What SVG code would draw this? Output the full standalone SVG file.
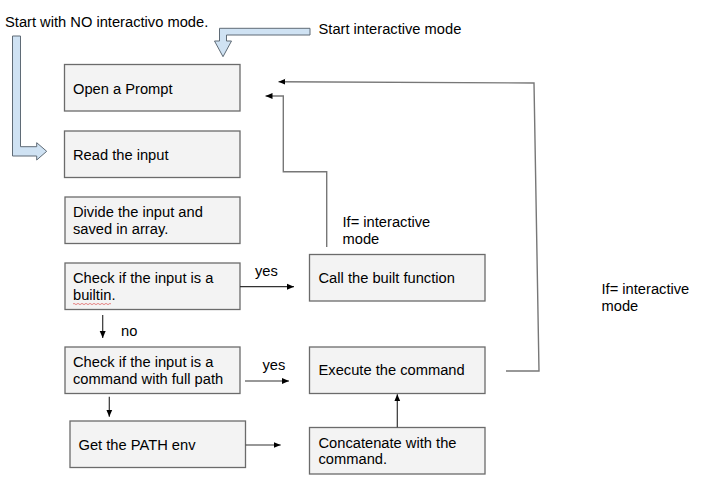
<svg xmlns="http://www.w3.org/2000/svg" width="728" height="501" viewBox="0 0 728 501">
<style>
  .box { fill: #f3f3f3; stroke: #6b6b6b; stroke-width: 1.3; }
  .t { font-family: "Liberation Sans", Arial, sans-serif; font-size: 14.7px; fill: #000; }
  .c { fill: none; stroke: #333; stroke-width: 1.2; }
  .cg { fill: none; stroke: #777; stroke-width: 1.4; }
  .blue { fill: #cfe2f3; stroke: #5f6b76; stroke-width: 1; }
</style>
<defs>
  <marker id="ah" markerUnits="userSpaceOnUse" markerWidth="8" markerHeight="8" viewBox="0 0 8 8" refX="7" refY="4" orient="auto">
    <path d="M0,1 L7,4 L0,7 Z" fill="#000"/>
  </marker>
</defs>
<rect width="728" height="501" fill="#fff"/>

<g id="start-labels">
  <text class="t" x="5" y="26.5">Start with NO interactivo mode.</text>
  <text class="t" x="318.5" y="33.5">Start interactive mode</text>
  <path class="blue" d="M12.5,36 H20.5 V146.7 H36.7 V142.7 L46.7,151.3 L36.7,160 V156 H12.5 Z"/>
  <path class="blue" d="M310,28.3 V35 H226.5 V41 H231.5 L223,56.7 L214.5,41 H219.5 V28.3 Z"/>
</g>

<g id="open-prompt">
  <rect class="box" x="64.5" y="64.5" width="175.5" height="46.5"/>
  <text class="t" x="73" y="93.5">Open a Prompt</text>
</g>
<g id="read-input">
  <rect class="box" x="64.5" y="131" width="175.5" height="46.5"/>
  <text class="t" x="73" y="160">Read the input</text>
</g>
<g id="divide-input">
  <rect class="box" x="65" y="197" width="175" height="46.5"/>
  <text class="t" x="73" y="216.5">Divide the input and</text>
  <text class="t" x="73" y="234">saved in array.</text>
</g>
<g id="check-builtin">
  <rect class="box" x="65" y="263" width="175" height="46.5"/>
  <text class="t" x="73" y="282.5">Check if the input is a</text>
  <text class="t" x="73" y="300">builtin.</text>
  <path d="M73,304 q1,-1.2 2,0 t2,0 t2,0 t2,0 t2,0 t2,0 t2,0 t2,0 t2,0 t2,0 t2,0 t2,0 t2,0 t2,0 t2,0 t2,0 t2,0 t2,0 t2,0" fill="none" stroke="#e06666" stroke-width="0.8"/>
</g>
<g id="call-builtin">
  <rect class="box" x="309.5" y="254.5" width="175.5" height="46.5"/>
  <text class="t" x="318.5" y="282.5">Call the built function</text>
</g>
<g id="check-command">
  <rect class="box" x="65" y="347" width="175" height="46.5"/>
  <text class="t" x="73" y="366.5">Check if the input is a</text>
  <text class="t" x="73" y="384">command with full path</text>
</g>
<g id="execute-command">
  <rect class="box" x="309.5" y="347" width="175.5" height="46.5"/>
  <text class="t" x="318.5" y="375">Execute the command</text>
</g>
<g id="get-path">
  <rect class="box" x="70" y="421" width="175.5" height="46.5"/>
  <text class="t" x="78.5" y="450">Get the PATH env</text>
</g>
<g id="concatenate">
  <rect class="box" x="309.5" y="427.5" width="175.5" height="46.5"/>
  <text class="t" x="318.5" y="448">Concatenate with the</text>
  <text class="t" x="318.5" y="463.5">command.</text>
</g>

<g id="connectors">
  <path class="c" d="M240,286.7 H294" marker-end="url(#ah)"/>
  <path class="c" d="M102.7,315 V338" marker-end="url(#ah)"/>
  <path class="c" d="M245,381 H289" marker-end="url(#ah)"/>
  <path class="c" d="M109.3,396.7 V416.7" marker-end="url(#ah)"/>
  <path class="c" d="M245.7,445 H280.7" marker-end="url(#ah)"/>
  <path class="c" d="M397.3,427.3 V394.3" marker-end="url(#ah)"/>
  <path class="cg" d="M326.7,247 V171.7 H283.3 V96 H265.5" marker-end="url(#ah)"/>
  <path class="cg" d="M506,371 H539 L534,83 L278.5,81.7" marker-end="url(#ah)"/>
  <text class="t" x="255" y="276">yes</text>
  <text class="t" x="121" y="336">no</text>
  <text class="t" x="262.5" y="369.5">yes</text>
  <text class="t" x="342.5" y="226.5">If= interactive</text>
  <text class="t" x="342.5" y="243.5">mode</text>
  <text class="t" x="601.5" y="293.5">If= interactive</text>
  <text class="t" x="601.5" y="310.5">mode</text>
</g>
</svg>
